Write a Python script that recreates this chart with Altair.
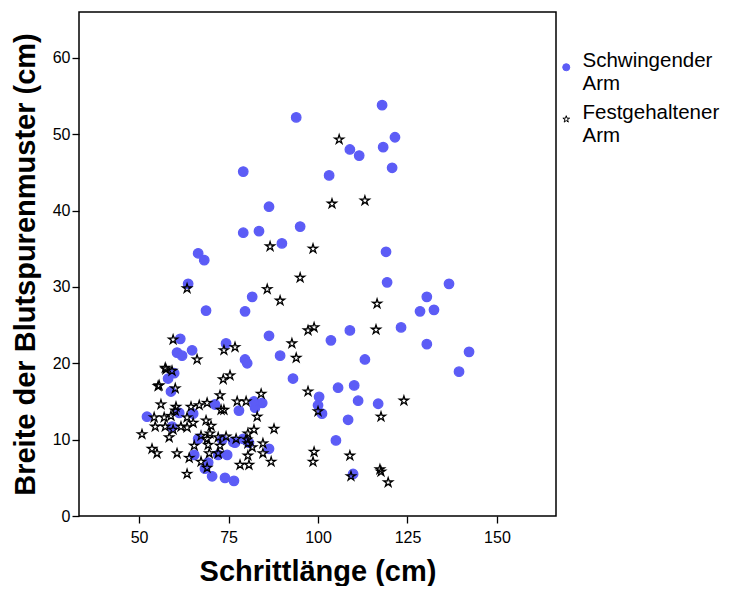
import altair as alt
import pandas as pd

# Schwingender Arm (circles)
swing_x = [117.9, 93.9, 121.5, 108.9, 111.5, 118.2, 120.7, 103.1, 79.1, 86.3,
           95.0, 79.1, 83.5, 89.9, 119.0, 66.5, 68.2, 119.3, 136.6, 63.7,
           81.6, 130.4, 132.4, 128.5, 68.7, 79.6, 123.2, 108.9, 103.6, 130.4,
           142.2, 139.4, 113.1, 89.4, 93.0, 105.6, 110.1, 100.3, 100.0, 101.1,
           111.2, 116.8, 108.4, 105.0, 109.8, 61.5, 60.6, 62.0, 64.8, 74.3,
           86.3, 79.6, 80.2, 59.8, 58.1, 58.9, 71.2, 77.9, 82.4, 82.1,
           84.4, 65.1, 59.2, 66.5, 76.3, 76.8, 79.1, 80.7, 73.2, 86.3,
           65.4, 74.6, 72.1, 69.3, 68.4, 70.4, 74.0, 76.5, 52.2, 61.2]
swing_y = [53.8, 52.2, 49.6, 48.0, 47.2, 48.3, 45.6, 44.6, 45.1, 40.5,
           37.9, 37.1, 37.3, 35.7, 34.6, 34.4, 33.5, 30.6, 30.4, 30.4,
           28.7, 28.7, 27.0, 26.8, 26.9, 26.8, 24.7, 24.3, 23.0, 22.5,
           21.5, 18.9, 20.5, 21.0, 18.0, 16.8, 17.1, 15.6, 14.5, 13.4,
           15.1, 14.7, 12.6, 9.9, 5.5, 23.2, 21.4, 21.0, 21.7, 22.6,
           23.6, 20.5, 20.0, 18.7, 18.0, 16.3, 14.6, 13.8, 14.2, 15.0,
           14.8, 13.4, 11.7, 10.1, 9.7, 9.6, 10.1, 9.6, 10.0, 8.8,
           8.0, 8.0, 8.0, 7.0, 6.2, 5.2, 5.0, 4.6, 13.0, 13.5]

# Festgehaltener Arm (stars)
fixed_x = [105.9, 103.9, 113.1, 86.6, 98.6, 95.0, 85.8, 89.4, 116.5, 116.2,
           97.2, 98.9, 63.4, 92.7, 93.9, 97.2, 100.0, 124.0, 117.6, 98.9,
           98.6, 108.9, 117.3, 117.6, 109.2, 119.6, 59.5, 73.7, 76.8, 66.2,
           73.5, 75.4, 57.3, 59.2, 57.5, 55.6, 55.3, 60.1, 72.6, 84.1,
           77.4, 79.9, 83.0, 72.9, 73.7, 66.8, 64.5, 56.1, 60.3, 60.1,
           54.2, 57.0, 58.9, 63.4, 65.1, 68.7, 54.5, 57.3, 59.5, 61.7,
           63.4, 70.1, 50.8, 58.4, 67.3, 69.8, 69.3, 65.4, 53.6, 55.0,
           60.6, 64.0, 67.3, 69.6, 63.4, 69.0, 72.1, 74.3, 77.1, 80.4,
           82.1, 87.7, 80.2, 80.4, 81.6, 84.6, 72.6, 72.1, 80.4, 84.6,
           78.2, 80.7, 86.9, 69.0, 69.0]
fixed_y = [49.3, 40.9, 41.3, 35.3, 35.0, 31.2, 29.7, 28.2, 27.8, 24.4,
           24.3, 24.7, 29.8, 22.6, 20.7, 16.3, 13.7, 15.1, 13.0, 8.4,
           7.1, 7.9, 6.1, 5.8, 5.2, 4.4, 23.1, 21.7, 22.1, 20.5,
           17.9, 18.4, 19.4, 19.0, 19.2, 17.1, 17.0, 16.7, 15.8, 16.0,
           15.0, 15.0, 13.0, 13.9, 13.9, 14.5, 14.3, 14.6, 14.3, 13.8,
           12.9, 12.9, 13.1, 12.9, 12.2, 12.5, 11.7, 11.7, 11.3, 11.7,
           11.6, 11.8, 10.7, 10.3, 10.5, 10.8, 9.3, 9.2, 8.8, 8.2,
           8.2, 7.6, 7.1, 8.2, 5.5, 10.1, 10.3, 10.4, 10.1, 10.8,
           11.3, 11.4, 10.0, 9.5, 9.0, 9.5, 9.2, 8.2, 7.9, 8.2,
           6.7, 6.7, 7.1, 14.8, 6.3]

groups = ["Schwingender Arm", "Festgehaltener Arm"]
x_ticks = [50, 75, 100, 125, 150]
y_ticks = [0, 10, 20, 30, 40, 50, 60]

df = pd.concat([
    pd.DataFrame({"x": swing_x, "y": swing_y, "g": groups[0]}),
    pd.DataFrame({"x": fixed_x, "y": fixed_y, "g": groups[1]}),
], ignore_index=True)

star = ("M0,-1L0.22,-0.3L0.951,-0.309L0.357,0.116L0.588,0.809L0,0.375"
        "L-0.588,0.809L-0.357,0.116L-0.951,-0.309L-0.22,-0.3Z")

font = "Liberation Sans"
leg = alt.Legend(title=" ", titleFontSize=20, titlePadding=25, orient="right", offset=0,
                 labelExpr="split(datum.label, ' ')", labelBaseline="alphabetic",
                 labelFontSize=20.5, labelFont=font, labelColor="black", labelLimit=0,
                 labelOffset=6, symbolSize=50, rowPadding=8, padding=0,
                 symbolStrokeWidth=1)

chart = alt.Chart(df).mark_point(strokeWidth=1.3, opacity=1).encode(
    x=alt.X("x:Q", scale=alt.Scale(domain=[33.2, 166.5], nice=False, zero=False),
            axis=alt.Axis(values=x_ticks, title="Schrittlänge (cm)", grid=False,
                          tickSize=7, labelPadding=6, titlePadding=12)),
    y=alt.Y("y:Q", scale=alt.Scale(domain=[0, 66], nice=False),
            axis=alt.Axis(values=y_ticks, title="Breite der Blutspurenmuster (cm)",
                          grid=False, tickSize=7, labelPadding=2, titlePadding=12)),
    shape=alt.Shape("g:N", scale=alt.Scale(domain=groups, range=["circle", star]), legend=leg),
    fill=alt.Fill("g:N", scale=alt.Scale(domain=groups, range=["#5c5cf6", "transparent"]), legend=leg),
    stroke=alt.Stroke("g:N", scale=alt.Scale(domain=groups, range=["#5c5cf6", "black"]), legend=leg),
).properties(
    width=477, height=504,
    padding={"left": 71, "top": 4, "right": 172, "bottom": 70},
    autosize=alt.AutoSizeParams(type="none"),
).configure_view(
    stroke="black", strokeWidth=1.5
).configure_axis(
    domain=False, tickColor="black", tickWidth=1.3, labelColor="black",
    labelFont=font, labelFontSize=16, titleFont=font, titleFontSize=29,
    titleFontWeight="bold", titleColor="black"
).configure_point(size=90)

chart.save("out.html", embed_options={"renderer": "svg", "actions": False})
